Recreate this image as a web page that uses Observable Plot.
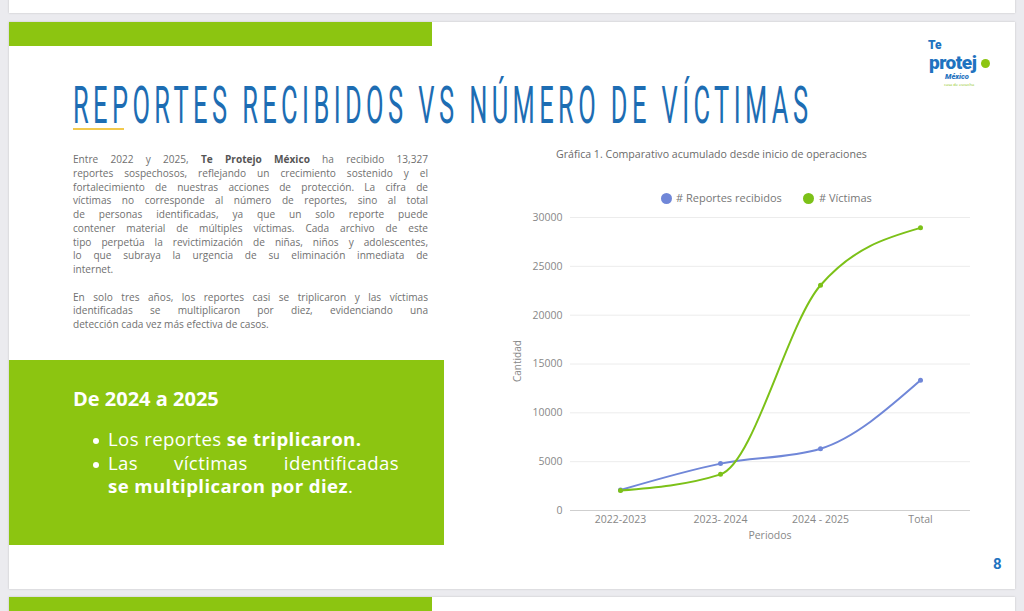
<!DOCTYPE html>
<html><head><meta charset="utf-8">
<script src="https://cdn.jsdelivr.net/npm/d3@7"></script>
<script src="https://cdn.jsdelivr.net/npm/@observablehq/plot@0.6"></script>
<style>
html,body{margin:0;padding:0;background:#ebebef;}
#page{position:relative;width:1024px;height:611px;overflow:hidden;background:#ebebef;font-family:"Open Sans",sans-serif;}
.abs{position:absolute;}
.slide{position:absolute;left:9px;width:1006px;background:#fff;box-shadow:0 0 2px rgba(0,0,0,0.18);}
.gbar{position:absolute;left:0;width:423px;background:#8cc511;}
#title{left:73px;top:80px;font-family:Roboto,sans-serif;font-weight:400;font-size:52px;line-height:52px;color:#1d6db3;letter-spacing:9px;white-space:nowrap;transform-origin:0 0;}
#para{left:73px;top:153px;width:355px;font-size:10.1px;line-height:13.75px;color:#707070;}
#para .l{display:block;text-align:justify;text-align-last:justify;white-space:nowrap;}
#para .e{display:block;text-align:left;}
#box{left:9px;top:360px;width:435px;height:185px;background:#8cc511;color:#fff;}
#boxh{position:absolute;left:64px;top:25px;font-size:20px;font-weight:700;}
.bul{position:absolute;left:99px;width:291px;font-size:18.6px;line-height:23.5px;letter-spacing:0.4px;}
.bul .ln{display:block;height:23.5px;}
.dot{position:absolute;left:-15px;width:6px;height:6px;border-radius:50%;background:#fff;}
#ctitle{left:556px;top:147px;font-size:10.6px;color:#6a6a6a;white-space:nowrap;}
.leg{font-size:11px;color:#777;white-space:nowrap;}
.ldot{position:absolute;width:11px;height:11px;border-radius:50%;}
</style></head>
<body><div id="page">
  <div class="slide" style="top:-4px;height:17px;"></div>
  <div class="slide" style="top:22px;height:567px;">
    <div class="gbar" style="top:0;height:24px;"></div>
  </div>
  <div class="slide" style="top:597px;height:30px;">
    <div class="gbar" style="top:0;height:30px;"></div>
  </div>

  <div id="title" class="abs">REPORTES RECIBIDOS VS NÚMERO DE VÍCTIMAS</div>
  <div class="abs" style="left:73px;top:128px;width:51px;height:2px;background:#f2c94c;"></div>

  <div id="para" class="abs">
    <span class="l">Entre 2022 y 2025, <b style="color:#555">Te Protejo México</b> ha recibido 13,327</span>
    <span class="l">reportes sospechosos, reflejando un crecimiento sostenido y el</span>
    <span class="l">fortalecimiento de nuestras acciones de protección. La cifra de</span>
    <span class="l">víctimas no corresponde al número de reportes, sino al total</span>
    <span class="l">de personas identificadas, ya que un solo reporte puede</span>
    <span class="l">contener material de múltiples víctimas. Cada archivo de este</span>
    <span class="l">tipo perpetúa la revictimización de niñas, niños y adolescentes,</span>
    <span class="l">lo que subraya la urgencia de su eliminación inmediata de</span>
    <span class="e">internet.</span>
    <span class="e">&nbsp;</span>
    <span class="l">En solo tres años, los reportes casi se triplicaron y las víctimas</span>
    <span class="l">identificadas se multiplicaron por diez, evidenciando una</span>
    <span class="e">detección cada vez más efectiva de casos.</span>
  </div>

  <div id="box" class="abs">
    <div id="boxh">De 2024 a 2025</div>
    <div class="dot" style="left:84px;top:78px;"></div>
    <div class="dot" style="left:84px;top:101.5px;"></div>
    <div class="bul" style="top:67px;"><span class="ln">Los reportes <b>se triplicaron.</b></span><span class="ln" style="text-align:justify;text-align-last:justify;">Las víctimas identificadas</span><span class="ln"><b>se multiplicaron por diez</b>.</span></div>
  </div>

  <!-- logo -->
  <div class="abs" style="left:928px;top:40px;font-family:Roboto,sans-serif;font-weight:900;color:#1f73c0;font-size:12px;line-height:11px;">Te</div>
  <div class="abs" style="left:929px;top:55px;font-family:Roboto,sans-serif;font-weight:900;color:#1f73c0;font-size:19px;line-height:15px;letter-spacing:-0.5px;">protej</div>
  <div class="abs" style="left:981px;top:59px;width:9px;height:9px;border-radius:50%;background:#8cc511;"></div>
  <div class="abs" style="left:945px;top:73px;font-family:Roboto,sans-serif;font-weight:900;font-style:italic;color:#1f73c0;font-size:7.5px;line-height:8px;">México</div>
  <div class="abs" style="left:944px;top:82px;font-size:4px;line-height:5px;color:#8cc511;white-space:nowrap;">casa de escucha</div>

  <div class="abs" style="left:993px;top:555px;font-family:Roboto,sans-serif;font-weight:700;color:#1f73c0;font-size:15px;">8</div>

  <div id="ctitle" class="abs">Gráfica 1. Comparativo acumulado desde inicio de operaciones</div>
  <div id="legend"></div>
  <div id="chart" class="abs" style="left:500px;top:205px;"></div>
  <div class="abs" style="left:500px;top:358px;width:34px;text-align:center;font-size:10px;color:#888;transform:rotate(-90deg);transform-origin:17px 7px;">Cantidad</div>
  <div class="abs" style="left:720px;top:528px;width:100px;text-align:center;font-size:10.5px;color:#888;">Periodos</div>
</div>
<script>
const periods = ["2022-2023", "2023- 2024", "2024 - 2025", "Total"];
const reportes = [2100, 4800, 6330, 13327];
const victimas = [2050, 3700, 23060, 28940];
const yTicks = [0, 5000, 10000, 15000, 20000, 25000, 30000];
const seriesNames = ["# Reportes recibidos", "# Víctimas"];
const seriesColors = ["#7087d8", "#7cc118"];

// fit title width
const t = document.getElementById("title");
const w = t.getBoundingClientRect().width - 9;
t.style.transform = `scaleX(${735 / w})`;

const data = [];
periods.forEach((p, i) => data.push({period: p, value: reportes[i], series: seriesNames[0]}));
periods.forEach((p, i) => data.push({period: p, value: victimas[i], series: seriesNames[1]}));

const chart = Plot.plot({
  width: 480, height: 345,
  marginLeft: 70, marginRight: 10, marginTop: 12, marginBottom: 40,
  style: {fontFamily: "Open Sans", fontSize: "10.5px", color: "#888", background: "transparent", overflow: "visible"},
  x: {type: "point", domain: periods, padding: 0.5},
  y: {domain: [0, 30000]},
  color: {domain: seriesNames, range: seriesColors},
  marks: [
    Plot.ruleY(yTicks.filter(d => d > 0), {stroke: "#ececec"}),
    Plot.ruleY([0], {stroke: "#cfcfcf"}),
    Plot.axisY({ticks: yTicks, tickSize: 0, tickPadding: 8, tickFormat: d3.format("d"), label: null}),
    Plot.axisX({tickSize: 0, tickPadding: 5, label: null}),
    Plot.line(data, {x: "period", y: "value", stroke: "series", z: "series", curve: "monotone-x", strokeWidth: 2}),
    Plot.dot(data, {x: "period", y: "value", fill: "series", r: 2.5})
  ]
});
document.getElementById("chart").appendChild(chart);

// legend
const leg = document.getElementById("legend");
const legPos = [{dot: 661, text: 676}, {dot: 803, text: 819}];
seriesNames.forEach((s, i) => {
  const d = document.createElement("div");
  d.className = "ldot"; d.style.left = legPos[i].dot + "px"; d.style.top = "193px"; d.style.background = seriesColors[i];
  leg.appendChild(d);
  const tx = document.createElement("div");
  tx.className = "abs leg"; tx.style.left = legPos[i].text + "px"; tx.style.top = "190px"; tx.textContent = s;
  leg.appendChild(tx);
});
</script>
</body></html>
